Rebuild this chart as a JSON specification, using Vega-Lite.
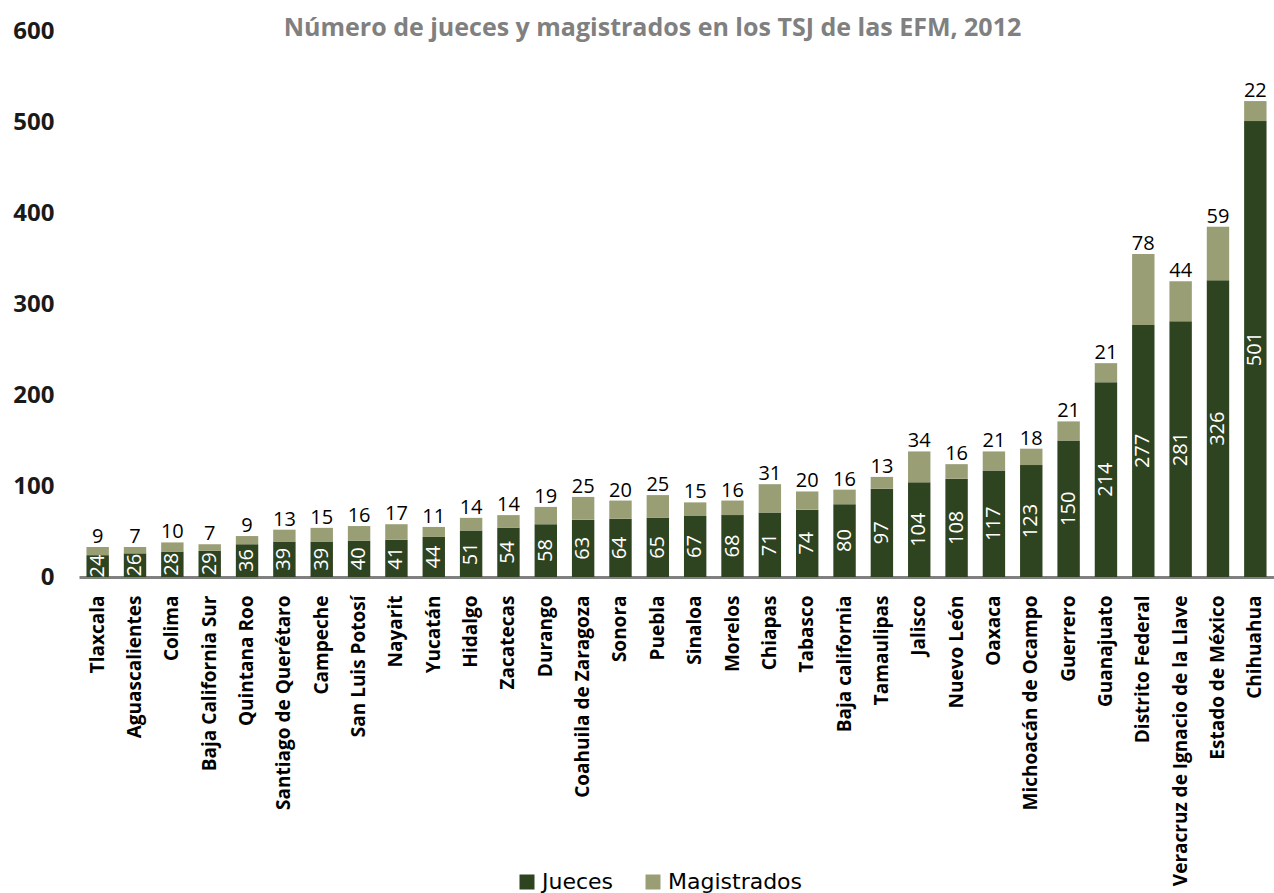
{
  "$schema": "https://vega.github.io/schema/vega-lite/v6.json",
  "width": 1195,
  "height": 546,
  "autosize": "none",
  "padding": {"left": 79, "top": 31, "right": 0, "bottom": 316},
  "background": "white",
  "title": {
    "text": "Número de jueces y magistrados en los TSJ de las EFM, 2012",
    "font": "Open Sans",
    "fontSize": 25,
    "fontWeight": "bold",
    "color": "#808080",
    "anchor": "middle",
    "frame": "group",
    "dx": -24,
    "offset": -22
  },
  "config": {"view": {"stroke": null}},
  "data": {
    "values": [
      {"estado": "Tlaxcala", "tipo": "Jueces", "valor": 24}, {"estado": "Tlaxcala", "tipo": "Magistrados", "valor": 9},
      {"estado": "Aguascalientes", "tipo": "Jueces", "valor": 26}, {"estado": "Aguascalientes", "tipo": "Magistrados", "valor": 7},
      {"estado": "Colima", "tipo": "Jueces", "valor": 28}, {"estado": "Colima", "tipo": "Magistrados", "valor": 10},
      {"estado": "Baja California Sur", "tipo": "Jueces", "valor": 29}, {"estado": "Baja California Sur", "tipo": "Magistrados", "valor": 7},
      {"estado": "Quintana Roo", "tipo": "Jueces", "valor": 36}, {"estado": "Quintana Roo", "tipo": "Magistrados", "valor": 9},
      {"estado": "Santiago de Querétaro", "tipo": "Jueces", "valor": 39}, {"estado": "Santiago de Querétaro", "tipo": "Magistrados", "valor": 13},
      {"estado": "Campeche", "tipo": "Jueces", "valor": 39}, {"estado": "Campeche", "tipo": "Magistrados", "valor": 15},
      {"estado": "San Luis Potosí", "tipo": "Jueces", "valor": 40}, {"estado": "San Luis Potosí", "tipo": "Magistrados", "valor": 16},
      {"estado": "Nayarit", "tipo": "Jueces", "valor": 41}, {"estado": "Nayarit", "tipo": "Magistrados", "valor": 17},
      {"estado": "Yucatán", "tipo": "Jueces", "valor": 44}, {"estado": "Yucatán", "tipo": "Magistrados", "valor": 11},
      {"estado": "Hidalgo", "tipo": "Jueces", "valor": 51}, {"estado": "Hidalgo", "tipo": "Magistrados", "valor": 14},
      {"estado": "Zacatecas", "tipo": "Jueces", "valor": 54}, {"estado": "Zacatecas", "tipo": "Magistrados", "valor": 14},
      {"estado": "Durango", "tipo": "Jueces", "valor": 58}, {"estado": "Durango", "tipo": "Magistrados", "valor": 19},
      {"estado": "Coahuila de Zaragoza", "tipo": "Jueces", "valor": 63}, {"estado": "Coahuila de Zaragoza", "tipo": "Magistrados", "valor": 25},
      {"estado": "Sonora", "tipo": "Jueces", "valor": 64}, {"estado": "Sonora", "tipo": "Magistrados", "valor": 20},
      {"estado": "Puebla", "tipo": "Jueces", "valor": 65}, {"estado": "Puebla", "tipo": "Magistrados", "valor": 25},
      {"estado": "Sinaloa", "tipo": "Jueces", "valor": 67}, {"estado": "Sinaloa", "tipo": "Magistrados", "valor": 15},
      {"estado": "Morelos", "tipo": "Jueces", "valor": 68}, {"estado": "Morelos", "tipo": "Magistrados", "valor": 16},
      {"estado": "Chiapas", "tipo": "Jueces", "valor": 71}, {"estado": "Chiapas", "tipo": "Magistrados", "valor": 31},
      {"estado": "Tabasco", "tipo": "Jueces", "valor": 74}, {"estado": "Tabasco", "tipo": "Magistrados", "valor": 20},
      {"estado": "Baja california", "tipo": "Jueces", "valor": 80}, {"estado": "Baja california", "tipo": "Magistrados", "valor": 16},
      {"estado": "Tamaulipas", "tipo": "Jueces", "valor": 97}, {"estado": "Tamaulipas", "tipo": "Magistrados", "valor": 13},
      {"estado": "Jalisco", "tipo": "Jueces", "valor": 104}, {"estado": "Jalisco", "tipo": "Magistrados", "valor": 34},
      {"estado": "Nuevo León", "tipo": "Jueces", "valor": 108}, {"estado": "Nuevo León", "tipo": "Magistrados", "valor": 16},
      {"estado": "Oaxaca", "tipo": "Jueces", "valor": 117}, {"estado": "Oaxaca", "tipo": "Magistrados", "valor": 21},
      {"estado": "Michoacán de Ocampo", "tipo": "Jueces", "valor": 123}, {"estado": "Michoacán de Ocampo", "tipo": "Magistrados", "valor": 18},
      {"estado": "Guerrero", "tipo": "Jueces", "valor": 150}, {"estado": "Guerrero", "tipo": "Magistrados", "valor": 21},
      {"estado": "Guanajuato", "tipo": "Jueces", "valor": 214}, {"estado": "Guanajuato", "tipo": "Magistrados", "valor": 21},
      {"estado": "Distrito Federal", "tipo": "Jueces", "valor": 277}, {"estado": "Distrito Federal", "tipo": "Magistrados", "valor": 78},
      {"estado": "Veracruz de Ignacio de la Llave", "tipo": "Jueces", "valor": 281}, {"estado": "Veracruz de Ignacio de la Llave", "tipo": "Magistrados", "valor": 44},
      {"estado": "Estado de México", "tipo": "Jueces", "valor": 326}, {"estado": "Estado de México", "tipo": "Magistrados", "valor": 59},
      {"estado": "Chihuahua", "tipo": "Jueces", "valor": 501}, {"estado": "Chihuahua", "tipo": "Magistrados", "valor": 22}
    ]
  },
  "transform": [
    {"stack": "valor", "groupby": ["estado"], "sort": [{"field": "tipo", "order": "ascending"}], "as": ["v0", "v1"]}
  ],
  "resolve": {"scale": {"y": "independent"}},
  "layer": [
    {
      "mark": {"type": "bar"},
      "encoding": {
        "x": {
          "field": "estado", "type": "nominal", "sort": null,
          "scale": {"paddingInner": 0.4, "paddingOuter": 0.2},
          "axis": {
            "title": null, "labelAngle": -90, "labelAlign": "right", "labelBaseline": "middle",
            "labelFont": "Open Sans", "labelFontSize": 19, "labelFontWeight": "bold", "labelColor": "#000000",
            "labelPadding": 18, "ticks": false, "domainColor": "#808080", "domainWidth": 3, "labelLimit": 400
          }
        },
        "y": {
          "field": "v0", "type": "quantitative",
          "scale": {"domain": [0, 600], "nice": false},
          "axis": {
            "title": null, "values": [0, 100, 200, 300, 400, 500, 600], "domain": false, "ticks": false, "grid": false,
            "labelFont": "Open Sans", "labelFontSize": 24, "labelFontWeight": "bold", "labelColor": "#1a1a1a", "labelPadding": 25
          }
        },
        "y2": {"field": "v1"},
        "color": {
          "field": "tipo", "type": "nominal",
          "scale": {"domain": ["Jueces", "Magistrados"], "range": ["#2e4320", "#9a9e75"]},
          "legend": {
            "title": null, "orient": "none", "direction": "horizontal", "legendX": 437, "legendY": 840,
            "symbolType": "square", "symbolSize": 225, "symbolStrokeWidth": 0, "symbolOpacity": 1,
            "labelFont": "DejaVu Sans", "labelFontSize": 22, "labelColor": "#000000", "labelOffset": 4, "columnPadding": 28
          }
        }
      }
    },
    {
      "transform": [{"filter": "datum.tipo == 'Jueces'"}],
      "mark": {"type": "text", "angle": 270, "align": "center", "baseline": "middle", "color": "#ffffff", "font": "Open Sans", "fontSize": 20},
      "encoding": {
        "x": {"field": "estado", "type": "nominal", "sort": null},
        "y": {"field": "valor", "type": "quantitative", "scale": {"domain": [0, 1200], "nice": false}, "axis": null},
        "text": {"field": "valor", "type": "quantitative"}
      }
    },
    {
      "transform": [{"filter": "datum.tipo == 'Magistrados'"}],
      "mark": {"type": "text", "align": "center", "baseline": "bottom", "dy": 0, "color": "#000000", "font": "Open Sans", "fontSize": 20},
      "encoding": {
        "x": {"field": "estado", "type": "nominal", "sort": null},
        "y": {"field": "v1", "type": "quantitative", "scale": {"domain": [0, 600], "nice": false}, "axis": null},
        "text": {"field": "valor", "type": "quantitative"}
      }
    }
  ]
}
